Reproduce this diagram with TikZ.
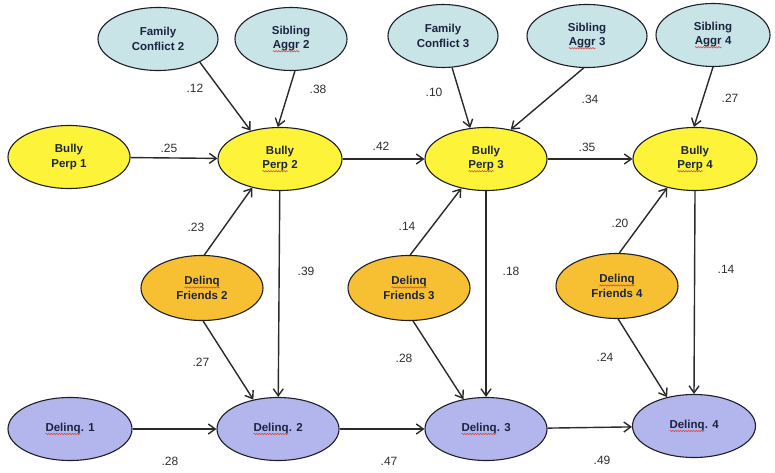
\documentclass[tikz,border=0pt]{standalone}
\usepackage{fontspec}
\setmainfont{Liberation Sans}
\usetikzlibrary{shapes.geometric,arrows.meta,decorations.pathmorphing}

\definecolor{cyanfill}{HTML}{C8E4E7}
\definecolor{yel}{HTML}{FDF338}
\definecolor{org}{HTML}{F7C033}
\definecolor{lav}{HTML}{B3B6EC}
\definecolor{edge}{HTML}{1E1E28}
\definecolor{arr}{HTML}{2A2A2A}
\definecolor{txt}{HTML}{1C2340}
\definecolor{labc}{HTML}{303030}
\definecolor{spellred}{HTML}{D8403A}

% red wavy underline under a word (inner node reset to a bare box)
\newcommand\wavy[1]{\tikz[baseline=(w.base)]{\node[shape=rectangle,draw=none,fill=none,
    minimum width=0pt,minimum height=0pt,inner sep=0pt,outer sep=0pt,align=left](w){#1};%
  \draw[spellred,line width=0.5pt,decorate,decoration={snake,amplitude=0.7pt,segment length=2.6pt}]
  ([yshift=-2.6pt]w.base west)--([yshift=-2.6pt]w.base east);}}

\tikzset{
  var/.style={ellipse,draw=edge,line width=1.1pt,inner sep=0pt,minimum width=122pt,
    minimum height=63pt,align=center,font=\bfseries\fontsize{11.5}{14.5}\selectfont,text=txt},
  ctx/.style={var,fill=cyanfill},
  bully/.style={var,fill=yel},
  frnd/.style={var,fill=org},
  dlq/.style={var,fill=lav},
  link/.style={draw=arr,line width=1.4pt,-{Straight Barb[length=7pt,width=10pt,line width=1.4pt]}},
  coef/.style={font=\fontsize{12}{14}\selectfont,text=labc,inner sep=0pt}
}

\begin{document}
\begin{tikzpicture}[x=1pt,y=-1pt]
\useasboundingbox[fill=white] (0,0) rectangle (775,473);

% context variables
\node[ctx,minimum width=120pt] (fc2) at (158,39) {Family\\Conflict 2};
\node[ctx,minimum width=112pt] (sa2) at (291,39) {Sibling\\\wavy{Aggr} 2};
\node[ctx,minimum width=110pt] (fc3) at (443,36) {Family\\Conflict 3};
\node[ctx,minimum width=120pt] (sa3) at (587,36) {Sibling\\\wavy{Aggr} 3};
\node[ctx,minimum width=114pt] (sa4) at (713,35) {Sibling\\\wavy{Aggr} 4};

% bullying perpetration
\node[bully,minimum width=122pt] (bp1) at (69,157) {Bully\\Perp 1};
\node[bully,minimum width=124pt] (bp2) at (280,159) {Bully\\\wavy{Perp} 2};
\node[bully,minimum width=122pt] (bp3) at (486,159) {Bully\\\wavy{Perp} 3};
\node[bully,minimum width=124pt] (bp4) at (695,159) {Bully\\\wavy{Perp} 4};

% delinquent friends
\node[frnd,minimum height=65pt] (df2) at (202,288) {\wavy{Delinq}\\Friends 2};
\node[frnd,minimum height=65pt] (df3) at (409,288) {\wavy{Delinq}\\Friends 3};
\node[frnd,minimum height=65pt] (df4) at (617,286) {\wavy{Delinq}\\Friends 4};

% delinquency
\node[dlq,minimum width=124pt] (d1) at (70,429) {\wavy{Delinq}. 1};
\node[dlq,minimum width=122pt] (d2) at (278,429) {\wavy{Delinq}. 2};
\node[dlq,minimum width=122pt] (d3) at (486,429) {\wavy{Delinq}. 3};
\node[dlq,minimum width=123pt] (d4) at (694,426) {\wavy{Delinq}. 4};

% paths into bullying
\draw[link] (fc2.-29) -- (bp2.136);
\draw[link] (sa2.-83) -- (bp2.94);
\draw[link] (fc3.-74) -- (bp3.117);
\draw[link] (sa3.-96) -- (bp3.50);
\draw[link] (sa4.-90) -- (bp4.92);
\draw[link] (bp1) -- (bp2);
\draw[link] (bp2) -- (bp3);
\draw[link] (bp3) -- (bp4);

% friends paths
\draw[link] (df2.86) -- (bp2.-134);
\draw[link] (df2.-88) -- (d2.130);
\draw[link] (df3.88) -- (bp3.-130);
\draw[link] (df3.-83) -- (d3.127);
\draw[link] (df4.86) -- (bp4.-134);
\draw[link] (df4.-88) -- (d4.133);

% bullying to delinquency
\draw[link] (bp2) -- (d2);
\draw[link] (bp3) -- (d3);
\draw[link] (bp4.-90) -- (d4.90);

% delinquency stability
\draw[link] (d1) -- (d2);
\draw[link] (d2) -- (d3);
\draw[link] (d3) -- (d4);

% coefficients
\node[coef] (c1) at (195,88) {.12};
\node[coef] (c2) at (318,89) {.38};
\node[coef] (c3) at (169,148) {.25};
\node[coef] (c4) at (381,146) {.42};
\node[coef] (c5) at (434,92) {.10};
\node[coef] (c6) at (590,99) {.34};
\node[coef] (c7) at (587,147) {.35};
\node[coef] (c8) at (730,98) {.27};
\node[coef] (c9) at (196,227) {.23};
\node[coef] (c10) at (306,271) {.39};
\node[coef] (c11) at (407,226) {.14};
\node[coef] (c12) at (511,271) {.18};
\node[coef] (c13) at (620,223) {.20};
\node[coef] (c14) at (726,269) {.14};
\node[coef] (c15) at (201,362) {.27};
\node[coef] (c16) at (404,358) {.28};
\node[coef] (c17) at (605,357) {.24};
\node[coef] (c18) at (170,461) {.28};
\node[coef] (c19) at (389,461) {.47};
\node[coef] (c20) at (602,460) {.49};
\end{tikzpicture}
\end{document}
